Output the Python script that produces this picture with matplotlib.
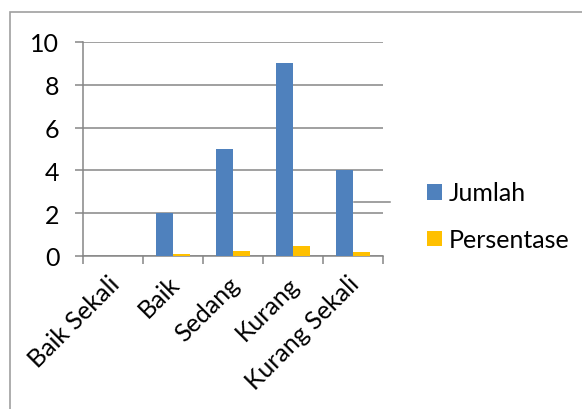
import matplotlib
matplotlib.use("Agg")
import matplotlib.pyplot as plt
import numpy as np
from matplotlib.lines import Line2D
from matplotlib.patches import Rectangle
from matplotlib.transforms import ScaledTranslation

# data
categories = ["Baik Sekali", "Baik", "Sedang", "Kurang", "Kurang Sekali"]
jumlah = [0, 2, 5, 9, 4]
persentase = [0, 0.1, 0.25, 0.45, 0.2]
yticks = [0, 2, 4, 6, 8, 10]

BLUE = "#4F81BD"
GOLD = "#FFC000"
GRID = "#868686"

plt.rcParams["font.family"] = ["Lato", "DejaVu Sans"]

W, H = 582, 410
fig = plt.figure(figsize=(W / 100, H / 100), dpi=100)

# chart frame (only top/left edges fall inside the picture)
fig.add_artist(Rectangle((10 / W, -0.1), 1.2, 1 - 13 / H + 0.1,
                         transform=fig.transFigure, fill=False,
                         edgecolor="#A0A0A0", linewidth=1.2))

ax = fig.add_axes([83 / W, 1 - 257 / H, 300 / W, 214 / H])
x = np.arange(len(categories))
bw = 0.29
ax.bar(x - bw / 2, jumlah, bw, color=BLUE, label="Jumlah", zorder=3)
ax.bar(x + bw / 2, persentase, bw, color=GOLD, label="Persentase", zorder=3)

ax.set_xlim(-0.5, len(categories) - 0.5)
ax.set_ylim(0, 10)
ax.set_yticks(yticks)
ax.yaxis.grid(True, color=GRID, linewidth=1.1, zorder=0)
ax.set_axisbelow(True)

for s in ["top", "right"]:
    ax.spines[s].set_visible(False)
for s in ["left", "bottom"]:
    ax.spines[s].set_color(GRID)
    ax.spines[s].set_linewidth(1.1)

ax.tick_params(axis="y", length=6, width=1.1, color=GRID, labelsize=18, pad=11)
ax.set_xticks(x)
ax.set_xticklabels(categories, rotation=45, ha="right", va="baseline",
                   rotation_mode="anchor", fontsize=18)
ax.tick_params(axis="x", length=0, pad=21)
shift = ScaledTranslation(8 / 100, 0, fig.dpi_scale_trans)
for lab in ax.get_xticklabels():
    lab.set_transform(lab.get_transform() + shift)
ax.set_xticks(np.arange(len(categories) + 1) - 0.5, minor=True)
ax.tick_params(axis="x", which="minor", length=6, width=1.1, color=GRID)

leg = fig.legend(loc="upper left", bbox_to_anchor=(414 / W, 1 - 170 / H),
                 frameon=False, fontsize=18, handlelength=0.6, handleheight=0.6,
                 handletextpad=0.3, labelspacing=0.95, borderpad=0)

# stray rule next to the last bar, as in the source
fig.add_artist(Line2D([354 / W, 390 / W], [1 - 203 / H] * 2,
                      transform=fig.transFigure, color=GRID, linewidth=1.1))

fig.savefig("out.png", dpi=100)
